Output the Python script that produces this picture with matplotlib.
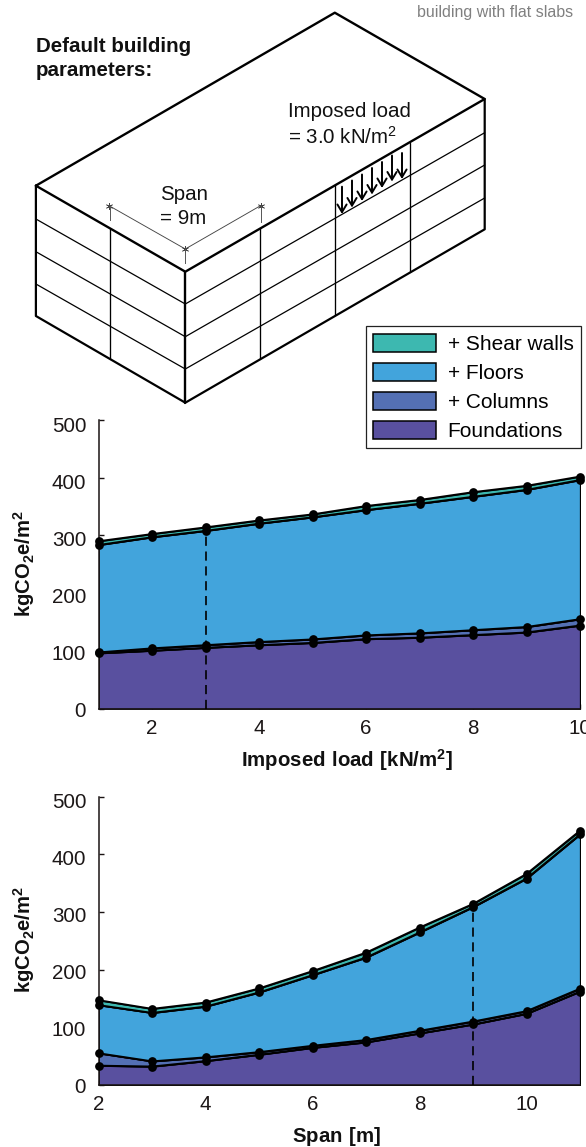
import matplotlib
matplotlib.use('Agg')
import matplotlib.pyplot as plt
from matplotlib.patches import Patch
from matplotlib.transforms import ScaledTranslation, IdentityTransform

plt.rcParams['font.family'] = ['Liberation Sans', 'DejaVu Sans']
plt.rcParams['mathtext.fontset'] = 'custom'
plt.rcParams['mathtext.rm'] = 'Liberation Sans'
plt.rcParams['mathtext.bf'] = 'Liberation Sans:bold'
plt.rcParams['mathtext.default'] = 'regular'

W, H = 586, 1147
INK = '#1a1414'

# ---------- data ----------
series_names = ['Foundations', '+ Columns', '+ Floors', '+ Shear walls']
series_colors = ['#59509F', '#5470B4', '#42A4DC', '#3DB8B0']

load_x = [1, 2, 3, 4, 5, 6, 7, 8, 9, 10]
load_found = [96, 100.5, 105.5, 110, 114, 120.5, 123, 127.5, 132, 144]
load_cols = [97.5, 104.5, 110, 115.5, 120, 127, 130.5, 136, 141.5, 155]
load_floors = [283.5, 297, 308, 320.5, 331.5, 344, 355, 367, 379, 396]
load_walls = [290, 302.5, 314, 326, 336.5, 351, 361.5, 375, 386, 402]
load_default = 3

span_x = [2, 3, 4, 5, 6, 7, 8, 9, 10, 11]
span_found = [33.5, 32, 41.5, 52.5, 64.5, 74, 89.5, 105, 123.5, 162]
span_cols = [55, 41, 48, 57, 68, 78, 94, 110, 128, 167]
span_floors = [138.5, 125, 136, 160.5, 190.5, 221, 264.5, 308.5, 358, 434.5]
span_walls = [147, 132, 143, 167.5, 197.5, 229.5, 273, 314, 366, 441]
span_default = 9

y_ticks = [0, 100, 200, 300, 400, 500]

# ---------- schematic geometry (pixels) ----------
LEFT_X, FRONT_X, RIGHT_X = 35.9, 185.3, 484.7
left_levels = [185.7, 219, 251.7, 284, 316]
front_levels = [271.7, 304, 336.7, 369, 402.7]
right_levels = [99, 132.7, 165, 198, 229.3]
apex = (334.8, 12.7)
left_face_col = (110.2, 228.7, 359.3)
right_face_cols = [(260, 228.3, 359.3), (334.8, 185, 315), (410, 142.7, 272.3)]
span_pts = [(109.1, 205.7), (185.3, 249), (260.5, 205.7)]
span_ticks = [(109.8, 205.7, 220), (185.3, 249, 263.3), (260.5, 205.7, 221.7)]
arrow_x = [342, 352, 362, 372, 382, 392, 402]
arrow_top = [186.7, 180.5, 174.5, 168, 162, 155.5, 153]
arrow_bot = [214, 207.5, 201, 194.5, 188, 181.5, 179]

fig = plt.figure(figsize=(W / 100, H / 100), dpi=100, facecolor='white')

# ---------- schematic ----------
sk = fig.add_axes([0, 0, 1, 1], zorder=0)
sk.set_xlim(0, W)
sk.set_ylim(H, 0)
sk.axis('off')
K = dict(color='black', solid_capstyle='round', solid_joinstyle='round')
sk.plot([LEFT_X, apex[0], RIGHT_X, FRONT_X, LEFT_X],
        [left_levels[0], apex[1], right_levels[0], front_levels[0], left_levels[0]], lw=1.7, **K)
sk.plot([LEFT_X, LEFT_X, FRONT_X, RIGHT_X, RIGHT_X],
        [left_levels[0], left_levels[-1], front_levels[-1], right_levels[-1], right_levels[0]], lw=1.6, **K)
sk.plot([FRONT_X, FRONT_X], [front_levels[0], front_levels[-1]], lw=1.7, **K)
for a, b, c in list(zip(left_levels, front_levels, right_levels))[1:-1]:
    sk.plot([LEFT_X, FRONT_X, RIGHT_X], [a, b, c], lw=0.9, **K)
x0, y0, y1 = left_face_col
sk.plot([x0, x0], [y0, y1], lw=0.95, **K)
for x0, y0, y1 in right_face_cols:
    sk.plot([x0, x0], [y0, y1], lw=0.95, **K)
sk.plot(*zip(*span_pts), color='#444444', lw=0.65, marker=(6, 2, 0), ms=5, mew=0.5)
for x0, y0, y1 in span_ticks:
    sk.plot([x0, x0], [y0, y1], color='#555555', lw=0.7)
for x0, t, b in zip(arrow_x, arrow_top, arrow_bot):
    sk.annotate('', xy=(x0, b), xytext=(x0, t),
                arrowprops=dict(arrowstyle='->,head_width=0.33,head_length=0.55',
                                color='black', lw=1.4, shrinkA=0, shrinkB=0))

sk.text(416.7, 12.7, 'building with flat slabs', fontsize=11.5, color='#808080', va='center', ha='left')
sk.text(35.9, 46, 'Default building', fontsize=14.8, fontweight='bold', va='center', color='#111111')
sk.text(35.9, 70.7, 'parameters:', fontsize=14.8, fontweight='bold', va='center', color='#111111')
sk.text(287.7, 111.7, 'Imposed load', fontsize=14.8, va='center', color='#111111')
sk.text(287.7, 136.7, '= 3.0 kN/m$^{2}$', fontsize=14.8, va='center', color='#111111')
sk.text(160, 194, 'Span', fontsize=14.8, va='center', color='#111111')
sk.text(160, 219, '= 9m', fontsize=14.8, va='center', color='#111111')


# ---------- charts ----------
def chart(rect_px, x, stacks, default, xlim, xticks, xlabel, xlabel_xy):
    l, t, r, b = rect_px
    ax = fig.add_axes([l / W, 1 - b / H, (r - l) / W, (b - t) / H], zorder=2)
    ax.patch.set_alpha(0)
    lower = [0] * len(x)
    for vals, col in zip(stacks, series_colors):
        ax.fill_between(x, lower, vals, facecolor=col, edgecolor='black', lw=0.9, zorder=2)
        lower = vals
    for vals in stacks:
        ax.plot(x, vals, color='black', lw=1.4, marker='o', ms=6.3, mew=0,
                clip_on=False, zorder=4)
    i = x.index(default)
    ax.plot([default, default], [0, stacks[2][i]], color='black', lw=1.2,
            dashes=(5.5, 3.4), zorder=3)
    ax.set_xlim(*xlim)
    ax.set_ylim(0, 500)
    ax.set_xticks(xticks)
    ax.set_yticks(y_ticks)
    ax.tick_params(direction='in', length=3.6, width=1.0, color=INK, labelsize=14.8,
                   labelcolor='#1c1717')
    ax.tick_params(axis='y', pad=9)
    ax.tick_params(axis='x', pad=7.5)
    for s in ('top', 'right'):
        ax.spines[s].set_visible(False)
    for s in ('left', 'bottom'):
        ax.spines[s].set_linewidth(1.1)
        ax.spines[s].set_color(INK)
    for lab, v in zip(ax.get_yticklabels(), y_ticks):
        off = ScaledTranslation(0, (-0.5 - v / 100 * 0.7) / 100, fig.dpi_scale_trans)
        lab.set_transform(lab.get_transform() + off)
    fig.text(24.3 / W, 1 - (t + 143) / H, r'$\mathbf{kgCO_2e/m^2}$', rotation=90,
             fontsize=14.6, ha='center', va='center', color='#111111')
    fig.text(xlabel_xy[0] / W, 1 - xlabel_xy[1] / H, xlabel, fontsize=14.7,
             ha='center', va='center', color='#111111')
    return ax


ax1 = chart((98.7, 420, 580, 708.7), load_x,
            [load_found, load_cols, load_floors, load_walls], load_default,
            (1, 10), [2, 4, 6, 8, 10], r'$\mathbf{Imposed\ load\ [kN/m^2]}$', (347, 760))
ax2 = chart((98.7, 796.7, 580, 1085), span_x,
            [span_found, span_cols, span_floors, span_walls], span_default,
            (2, 11), [2, 4, 6, 8, 10], r'$\mathbf{Span\ [m]}$', (336, 1136))

handles = [Patch(facecolor=c, edgecolor='black', lw=1.1, label=n)
           for c, n in zip(series_colors[::-1], series_names[::-1])]
leg = ax1.legend(handles=handles, loc='upper left',
                 bbox_to_anchor=(365.5, H - 326), bbox_transform=IdentityTransform(),
                 fontsize=15, frameon=True, fancybox=False, edgecolor='#222222',
                 framealpha=1, borderpad=0.36, handlelength=3.02, handleheight=1.0,
                 labelspacing=0.41, handletextpad=0.56, borderaxespad=0)
leg.get_frame().set_linewidth(0.9)
leg.set_zorder(10)

fig.savefig('out.png', dpi=100)
